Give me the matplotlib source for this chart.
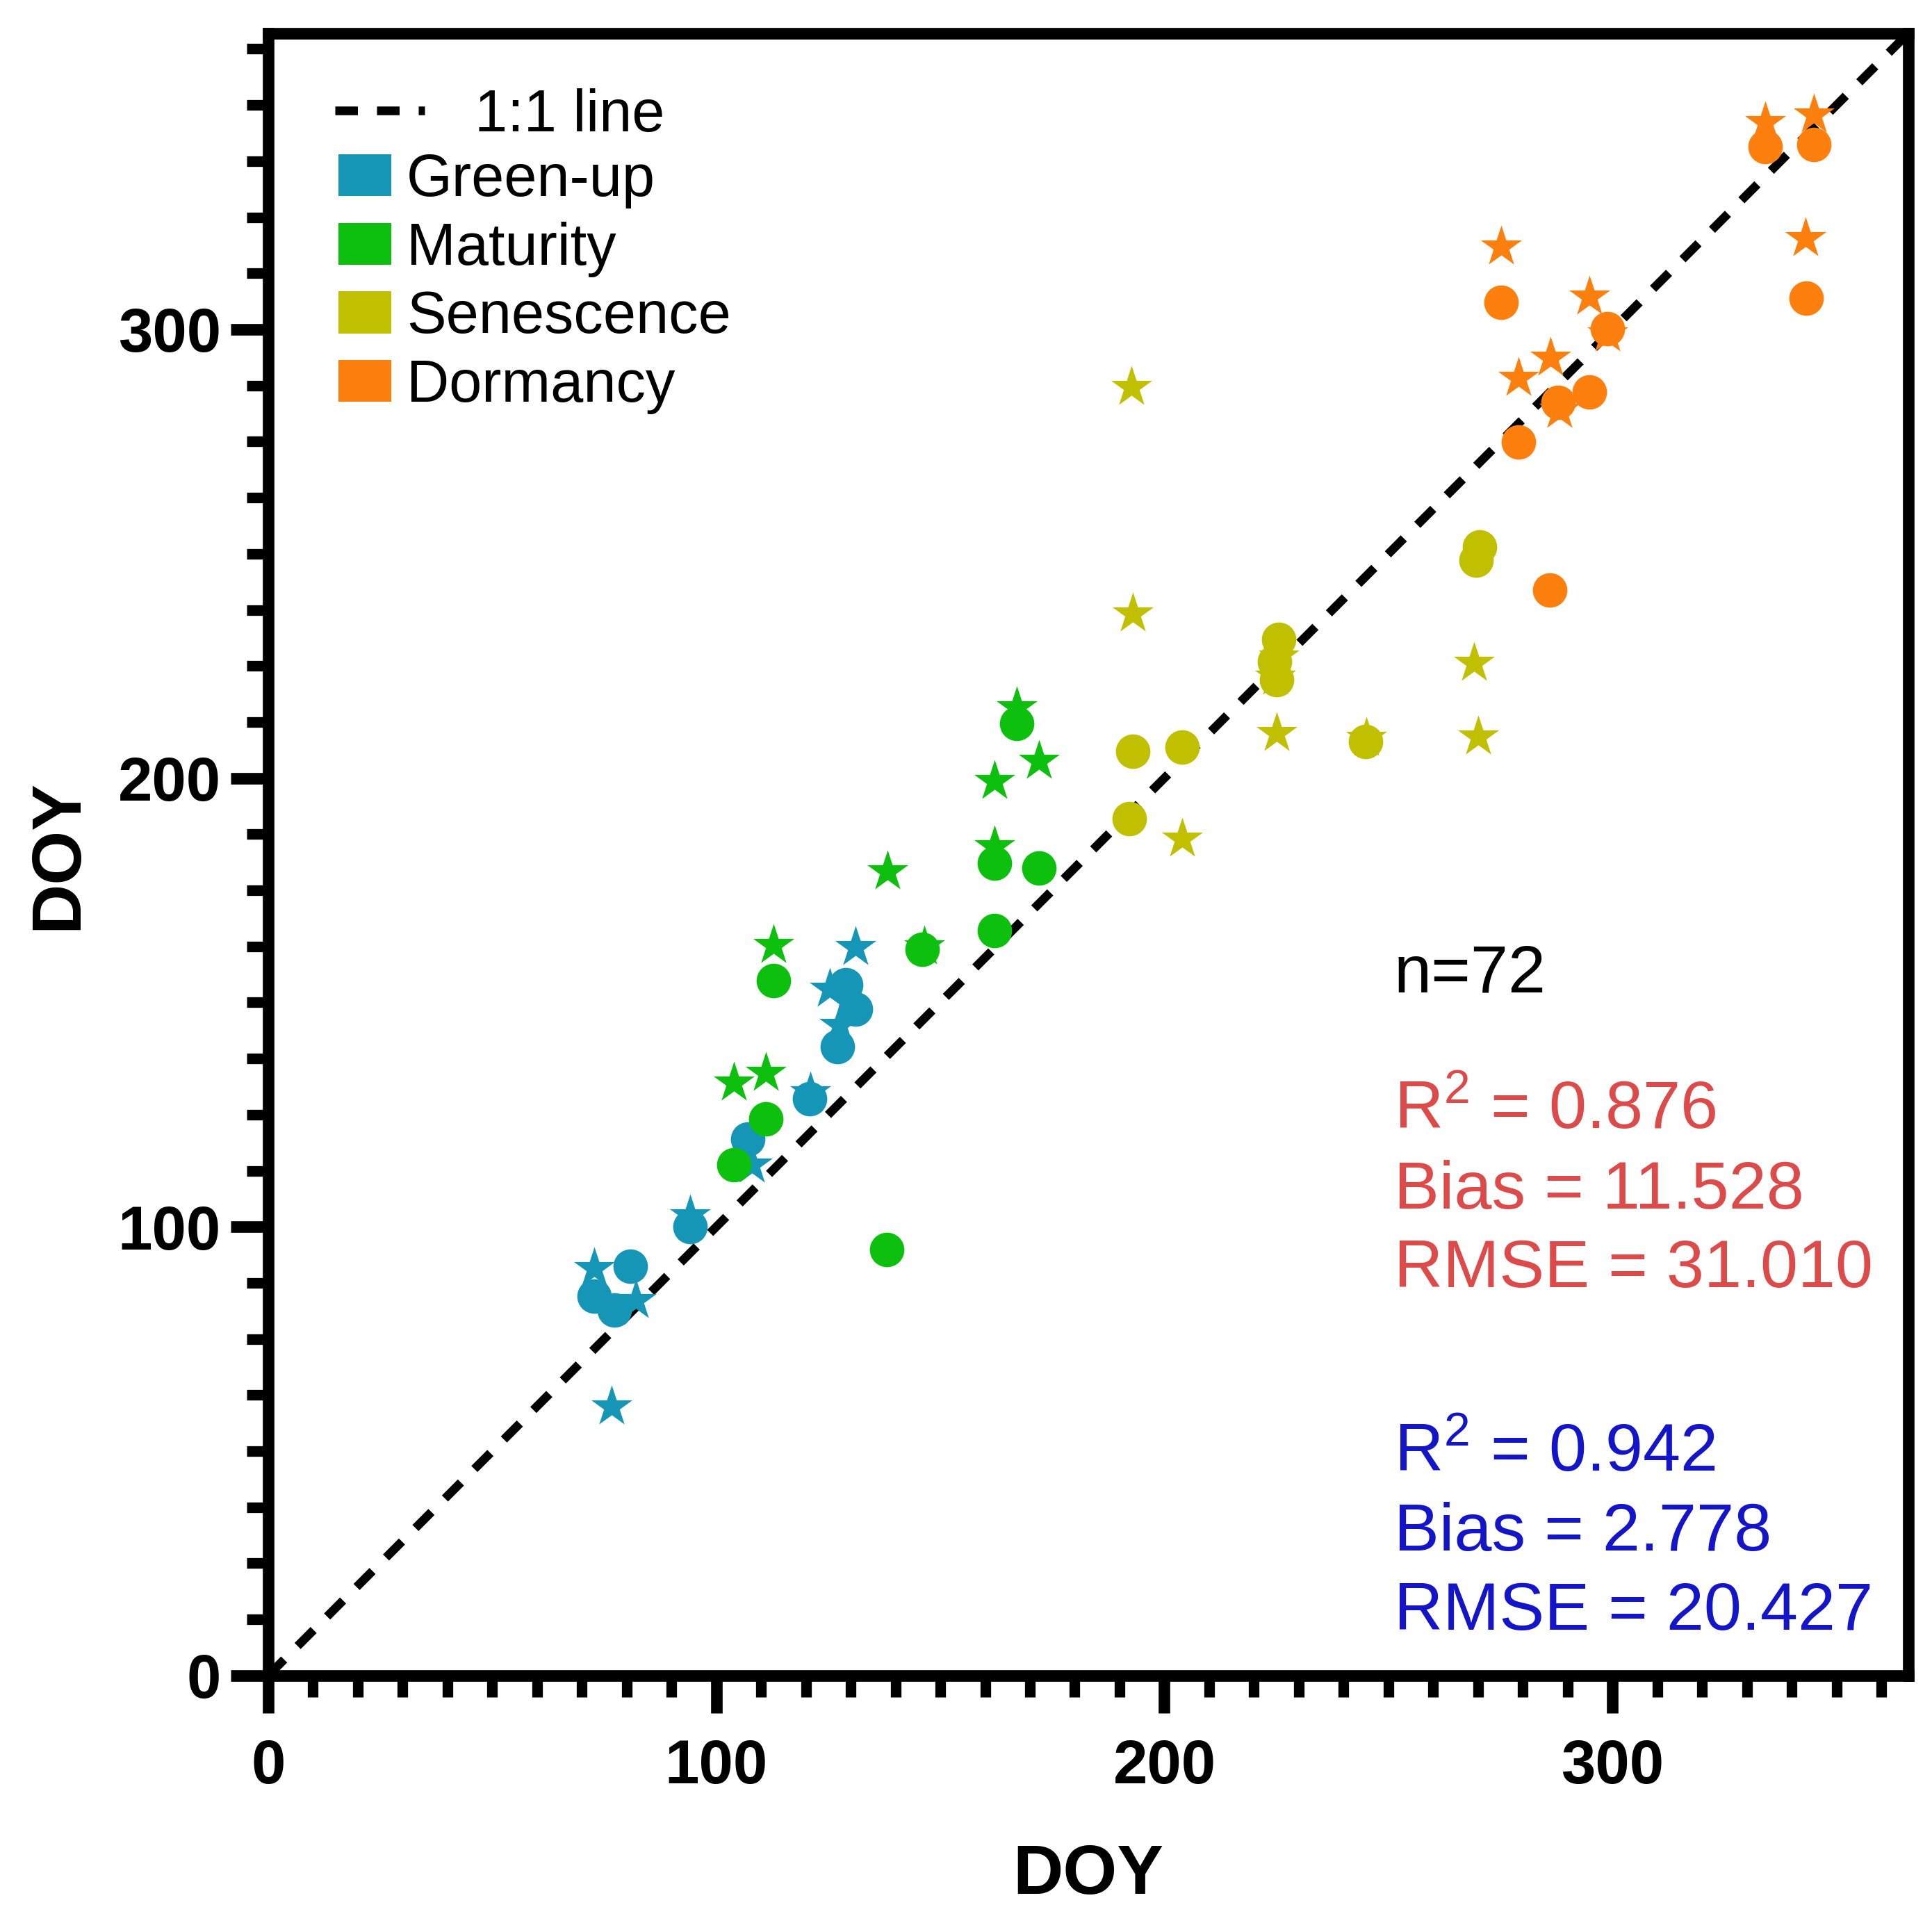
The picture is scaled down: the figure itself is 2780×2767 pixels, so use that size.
import numpy as np
import matplotlib.pyplot as plt
from matplotlib.lines import Line2D
from matplotlib.patches import Patch
from matplotlib.ticker import MultipleLocator

plt.rcParams["font.family"] = ["Liberation Sans", "DejaVu Sans"]
plt.rcParams["mathtext.fontset"] = "custom"
plt.rcParams["mathtext.rm"] = "Liberation Sans"
plt.rcParams["mathtext.default"] = "regular"

# -----------------------------
# Data (DOY)
# -----------------------------

phases = ["Green-up", "Maturity", "Senescence", "Dormancy"]
colors = ["#1596B6", "#0DC00D", "#C0C000", "#FD800F"]

greenup_circle_x = [72.7, 77.2, 80.8, 94.1, 107.0, 120.8, 127.0, 131.1, 128.9]
greenup_circle_y = [84.5, 81.4, 91.2, 100.0, 119.6, 128.5, 140.1, 148.5, 153.9]
greenup_star_x = [76.7, 72.7, 82.1, 94.1, 107.9, 121.0, 127.5, 125.3, 131.1]
greenup_star_y = [60.0, 90.7, 83.6, 102.5, 113.8, 130.0, 145.0, 153.0, 162.3]

maturity_circle_x = [167.0, 162.1, 172.0, 162.1, 146.0, 112.8, 111.0, 103.9, 138.0]
maturity_circle_y = [212.2, 181.1, 180.0, 166.0, 161.9, 154.8, 124.1, 113.8, 94.9]
maturity_star_x = [167.0, 172.0, 162.1, 162.1, 146.5, 138.2, 112.8, 103.9, 111.0]
maturity_star_y = [215.8, 203.8, 199.3, 184.7, 162.5, 179.2, 162.8, 132.1, 134.3]

senescence_circle_x = [193.0, 203.9, 192.1, 225.5, 224.6, 225.0, 244.9, 269.5, 270.3]
senescence_circle_y = [206.0, 206.9, 190.9, 230.9, 226.0, 222.0, 208.2, 248.5, 251.5]
senescence_star_x = [193.0, 192.6, 203.9, 225.5, 225.0, 245.0, 269.1, 270.0, 224.8]
senescence_star_y = [236.7, 287.1, 186.4, 227.0, 210.0, 209.0, 225.6, 209.3, 222.5]

dormancy_circle_x = [334.1, 345.0, 343.2, 275.1, 298.8, 294.9, 287.9, 279.1, 286.0]
dormancy_circle_y = [340.7, 341.2, 306.9, 306.0, 300.2, 286.0, 283.8, 274.9, 241.9]
dormancy_star_x = [334.1, 345.0, 343.1, 275.1, 294.9, 286.2, 279.1, 288.1, 298.8]
dormancy_star_y = [346.1, 347.8, 320.3, 318.5, 307.3, 293.6, 289.1, 282.0, 299.0]

circle_x = [greenup_circle_x, maturity_circle_x, senescence_circle_x, dormancy_circle_x]
circle_y = [greenup_circle_y, maturity_circle_y, senescence_circle_y, dormancy_circle_y]
star_x = [greenup_star_x, maturity_star_x, senescence_star_x, dormancy_star_x]
star_y = [greenup_star_y, maturity_star_y, senescence_star_y, dormancy_star_y]

axis_max = 366
one_to_one = [0, axis_max]

n_text = "n=72"
stats_red = [r"$R^{2}$ = 0.876", "Bias = 11.528", "RMSE = 31.010"]
stats_blue = [r"$R^{2}$ = 0.942", "Bias = 2.778", "RMSE = 20.427"]

# -----------------------------
# Figure
# -----------------------------

fig = plt.figure(figsize=(13.9, 13.835), dpi=200)
ax = fig.add_axes([0.1388, 0.1287, 0.8489, 0.8540])

dash_style = dict(color="black", linewidth=4.5, dashes=(2.6, 2.2),
                  dash_capstyle="butt")

ax.plot(one_to_one, one_to_one, zorder=1, **dash_style)

for i in range(4):
    ax.scatter(star_x[i], star_y[i], s=500, marker="*",
               color=colors[i], linewidths=0, zorder=2)

for i in range(4):
    ax.scatter(circle_x[i], circle_y[i], s=320, marker="o",
               color=colors[i], linewidths=0, zorder=3)

# -----------------------------
# Axes formatting
# -----------------------------

ax.set_xlim(0, axis_max)
ax.set_ylim(0, axis_max)

ax.xaxis.set_major_locator(MultipleLocator(100))
ax.xaxis.set_minor_locator(MultipleLocator(10))
ax.yaxis.set_major_locator(MultipleLocator(100))
ax.yaxis.set_minor_locator(MultipleLocator(12.5))

for side in ["left", "bottom", "top", "right"]:
    ax.spines[side].set_linewidth(6)
    ax.spines[side].set_capstyle("projecting")

ax.tick_params(which="major", direction="out", length=19.5, width=6)
ax.tick_params(which="minor", direction="out", length=11, width=5.5)
ax.tick_params(axis="x", which="major", pad=13)
ax.tick_params(axis="y", which="major", pad=5)

for lab in ax.get_xticklabels() + ax.get_yticklabels():
    lab.set_fontsize(32)
    lab.set_fontweight("bold")

ax.set_xlabel("DOY", fontsize=36, fontweight="bold")
ax.set_ylabel("DOY", fontsize=36, fontweight="bold")
ax.xaxis.set_label_coords(0.5, -0.102)
ax.yaxis.set_label_coords(-0.108, 0.5)

# -----------------------------
# Legends
# -----------------------------

line_handle = [Line2D([0], [0], **dash_style)]
leg1 = ax.legend(line_handle, ["1:1 line"], loc="upper left",
                 bbox_to_anchor=(0.0407, 0.9666), frameon=False,
                 fontsize=30.5, handlelength=1.52, handletextpad=0.85,
                 borderpad=0, borderaxespad=0)
ax.add_artist(leg1)

patch_handles = [Patch(facecolor=c, edgecolor="none") for c in colors]
ax.legend(patch_handles, phases, loc="upper left",
          bbox_to_anchor=(0.0428, 0.9272), frameon=False,
          fontsize=30.5, handlelength=0.9, handleheight=0.72,
          handletextpad=0.26, labelspacing=0.22,
          borderpad=0, borderaxespad=0)

# -----------------------------
# Statistics text
# -----------------------------

text_x = 251.2
ax.text(text_x, 152.3, n_text, fontsize=35, color="black", va="baseline")

for txt, yy in zip(stats_red, [122.0, 104.1, 86.6]):
    ax.text(text_x, yy, txt, fontsize=35, color="#DC4A4A", va="baseline")

for txt, yy in zip(stats_blue, [45.6, 27.9, 10.2]):
    ax.text(text_x, yy, txt, fontsize=35, color="#1414C8", va="baseline")

plt.savefig("out.png", dpi=200)
